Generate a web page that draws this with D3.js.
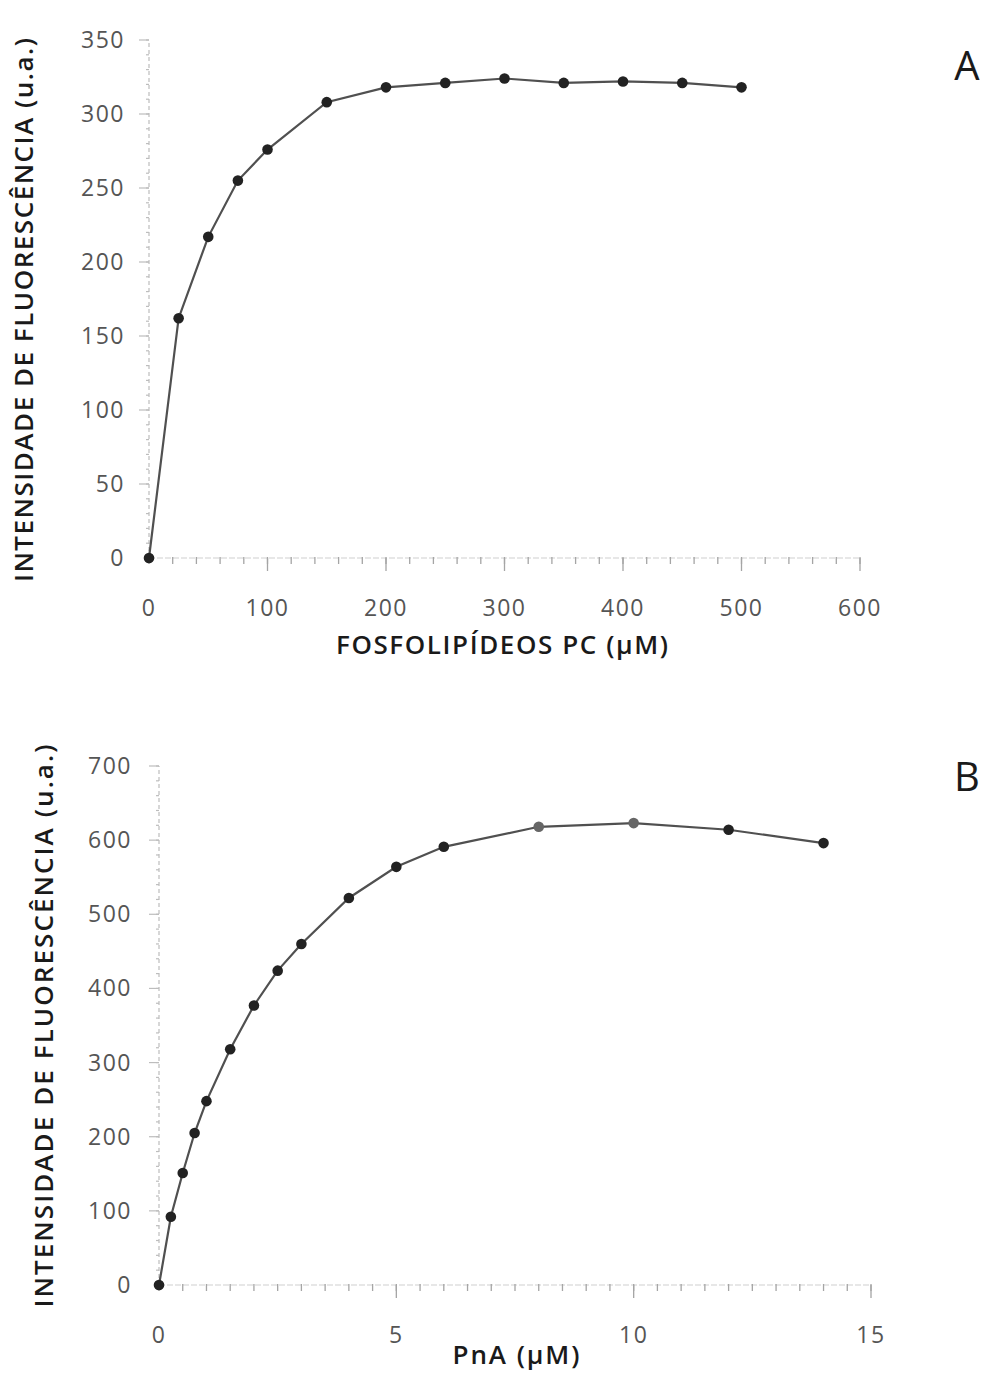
<!DOCTYPE html>
<html>
<head>
<meta charset="utf-8">
<script src="https://cdn.jsdelivr.net/npm/d3@7"></script>
<style>
  html, body { margin: 0; padding: 0; background: #fff; }
  svg { display: block; }
  text { font-family: "Open Sans", "DejaVu Sans", sans-serif; }
</style>
</head>
<body>
<svg id="chart" width="983" height="1373"></svg>
<script>
// ---------- Data ----------
// Panel A: fluorescence vs phospholipid PC concentration
const pcConc = [0, 25, 50, 75, 100, 150, 200, 250, 300, 350, 400, 450, 500];
const pcFluor = [0, 162, 217, 255, 276, 308, 318, 321, 324, 321, 322, 321, 318];
const pcXTicks = [0, 100, 200, 300, 400, 500, 600];
const pcYTicks = [0, 50, 100, 150, 200, 250, 300, 350];

// Panel B: fluorescence vs PnA concentration
const pnaConc = [0, 0.25, 0.5, 0.75, 1, 1.5, 2, 2.5, 3, 4, 5, 6, 8, 10, 12, 14];
const pnaFluor = [0, 92, 151, 205, 248, 318, 377, 424, 460, 522, 564, 591, 618, 623, 614, 596];
const pnaErr   = [0, 0, 0, 0, 0, 0, 0, 0, 0, 0, 0, 0, 6, 6, 0, 0];
const pnaXTicks = [0, 5, 10, 15];
const pnaYTicks = [0, 100, 200, 300, 400, 500, 600, 700];

const yTitle = "INTENSIDADE DE FLUORESCÊNCIA (u.a.)";
const xTitleA = "FOSFOLIPÍDEOS PC (µM)";
const xTitleB = "PnA (µM)";

const svg = d3.select("#chart");

function panel(cfg) {
  const x = d3.scaleLinear().domain(cfg.xDomain).range(cfg.xRange);
  const y = d3.scaleLinear().domain(cfg.yDomain).range(cfg.yRange);
  const g = svg.append("g");

  // x axis line
  g.append("line")
    .attr("x1", x(cfg.xDomain[0])).attr("x2", x(cfg.xDomain[1]))
    .attr("y1", y(0)).attr("y2", y(0))
    .attr("stroke", "#cfcfcf").attr("stroke-width", 1.2)
    .attr("stroke-dasharray", "6,2");
  // y axis line (dashed, faint)
  g.append("line")
    .attr("x1", x(0)).attr("x2", x(0))
    .attr("y1", y(cfg.yDomain[0])).attr("y2", y(cfg.yDomain[1]))
    .attr("stroke", "#bdbdbd").attr("stroke-width", 1.2)
    .attr("stroke-dasharray", "4,3");

  // x minor ticks
  const xMinor = d3.range(cfg.xDomain[0], cfg.xDomain[1] + 1e-9, cfg.xMinorStep);
  g.selectAll(".xminor").data(xMinor).join("line")
    .attr("x1", d => x(d)).attr("x2", d => x(d))
    .attr("y1", y(0) - 1).attr("y2", y(0) + 6)
    .attr("stroke", "#a5a5a5").attr("stroke-width", 1.3);
  // x major ticks
  g.selectAll(".xmajor").data(cfg.xTicks.filter(d => d !== 0)).join("line")
    .attr("x1", d => x(d)).attr("x2", d => x(d))
    .attr("y1", y(0)).attr("y2", y(0) + 13)
    .attr("stroke", "#a5a5a5").attr("stroke-width", 1.3);
  // y minor ticks
  const yMinor = d3.range(cfg.yDomain[0], cfg.yDomain[1] + 1e-9, cfg.yMinorStep);
  g.selectAll(".yminor").data(yMinor).join("line")
    .attr("x1", x(0) - 3).attr("x2", x(0))
    .attr("y1", d => y(d)).attr("y2", d => y(d))
    .attr("stroke", "#bdbdbd").attr("stroke-width", 1.2);
  g.selectAll(".ymajor").data(cfg.yTicks.filter(d => d !== 0)).join("line")
    .attr("x1", x(0) - 10).attr("x2", x(0))
    .attr("y1", d => y(d)).attr("y2", d => y(d))
    .attr("stroke", "#bdbdbd").attr("stroke-width", 1.2);

  // tick labels
  g.selectAll(".xlab").data(cfg.xTicks).join("text")
    .attr("x", d => x(d)).attr("y", y(0) + cfg.xLabOffset)
    .attr("text-anchor", "middle")
    .attr("font-family", "DejaVu Sans").attr("letter-spacing", 1.5)
    .attr("font-size", 23).attr("fill", "#555")
    .text(d => d);
  g.selectAll(".ylab").data(cfg.yTicks).join("text")
    .attr("x", x(0) - cfg.yLabOffset).attr("y", d => y(d) + 8)
    .attr("text-anchor", "end")
    .attr("font-family", "DejaVu Sans").attr("letter-spacing", 1.5)
    .attr("font-size", 23).attr("fill", "#555")
    .text(d => d);

  // axis titles
  g.append("text")
    .attr("x", cfg.xTitlePos[0]).attr("y", cfg.xTitlePos[1])
    .attr("text-anchor", "middle")
    .attr("font-size", 26).attr("font-weight", 600).attr("fill", "#1a1a1a")
    .attr("textLength", cfg.xTitleLen).attr("lengthAdjust", "spacing")
    .text(cfg.xTitle);
  g.append("text")
    .attr("transform", `translate(${cfg.yTitlePos[0]},${cfg.yTitlePos[1]}) rotate(-90)`)
    .attr("text-anchor", "middle")
    .attr("font-size", 26).attr("font-weight", 600).attr("fill", "#1a1a1a")
    .attr("textLength", cfg.yTitleLen).attr("lengthAdjust", "spacing")
    .text(yTitle);

  // panel letter
  g.append("text")
    .attr("x", cfg.letterPos[0]).attr("y", cfg.letterPos[1])
    .attr("text-anchor", "middle")
    .attr("font-size", 40).attr("fill", "#1a1a1a")
    .text(cfg.letter);

  // data line & markers
  const pts = cfg.xs.map((v, i) => ({x: v, y: cfg.ys[i], e: cfg.errs ? cfg.errs[i] : 0}));
  g.append("path")
    .datum(pts)
    .attr("fill", "none").attr("stroke", "#505050").attr("stroke-width", 2.2)
    .attr("d", d3.line().x(d => x(d.x)).y(d => y(d.y)));
  // error bars
  g.selectAll(".err").data(pts.filter(d => d.e > 0)).join("line")
    .attr("x1", d => x(d.x)).attr("x2", d => x(d.x))
    .attr("y1", d => y(d.y - d.e)).attr("y2", d => y(d.y + d.e))
    .attr("stroke", "#888").attr("stroke-width", 2);
  g.selectAll(".pt").data(pts).join("circle")
    .attr("cx", d => x(d.x)).attr("cy", d => y(d.y))
    .attr("r", 5.3).attr("fill", d => d.e > 0 ? "#666" : "#222");
}

panel({
  xDomain: [0, 600], xRange: [149, 860],
  yDomain: [0, 350], yRange: [558, 40],
  xTicks: pcXTicks, yTicks: pcYTicks,
  xMinorStep: 20, yMinorStep: 10,
  xLabOffset: 58, yLabOffset: 24,
  xTitle: xTitleA, xTitlePos: [502, 654], xTitleLen: 332,
  yTitlePos: [33, 310], yTitleLen: 544,
  letter: "A", letterPos: [967, 80],
  xs: pcConc, ys: pcFluor
});

panel({
  xDomain: [0, 15], xRange: [159, 871],
  yDomain: [0, 700], yRange: [1285, 766],
  xTicks: pnaXTicks, yTicks: pnaYTicks,
  xMinorStep: 0.5, yMinorStep: 20,
  xLabOffset: 58, yLabOffset: 27,
  xTitle: xTitleB, xTitlePos: [516, 1364], xTitleLen: 127,
  yTitlePos: [53, 1026], yTitleLen: 563,
  letter: "B", letterPos: [967, 791],
  xs: pnaConc, ys: pnaFluor, errs: pnaErr
});
</script>
</body>
</html>
